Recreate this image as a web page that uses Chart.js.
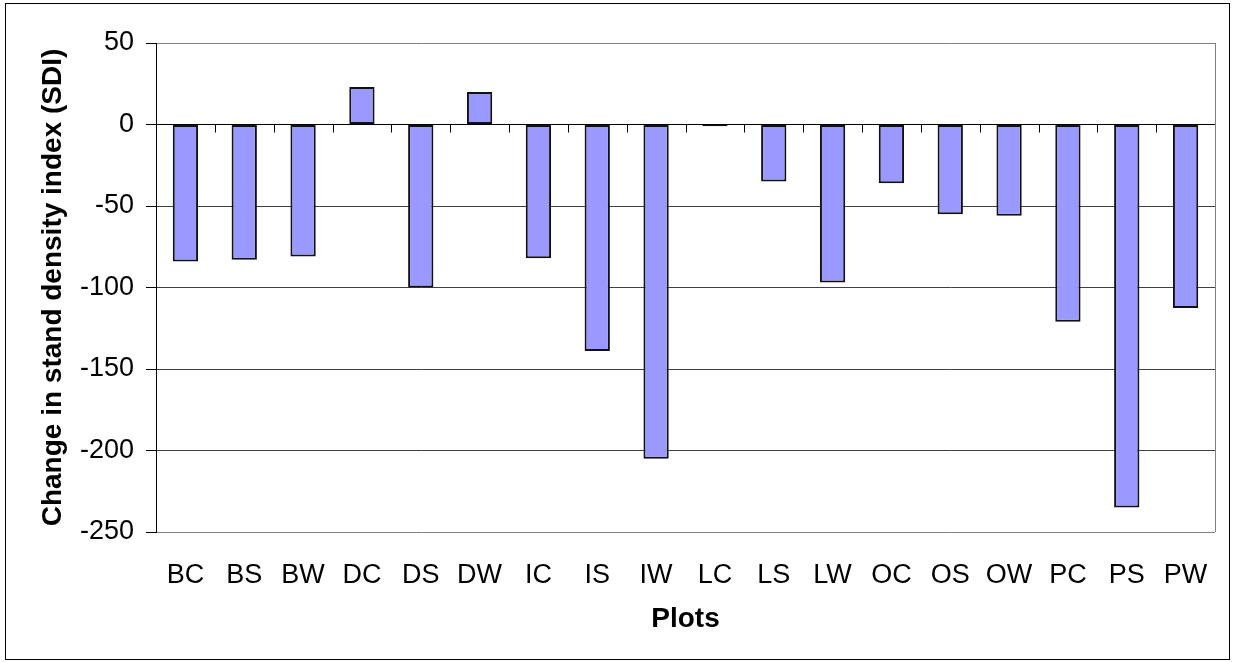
<!DOCTYPE html>
<html>
<head>
<meta charset="utf-8">
<script src="https://cdn.jsdelivr.net/npm/chart.js@4.4.0/dist/chart.umd.min.js"></script>
<style>
    html, body { margin: 0; padding: 0; background: #fff; }
    #wrap { width: 1233px; height: 662px; }
</style>
</head>
<body>
<div id="wrap"><canvas id="sdiChart"></canvas></div>
<script>
// Data
const plots = ['BC', 'BS', 'BW', 'DC', 'DS', 'DW', 'IC', 'IS', 'IW', 'LC', 'LS', 'LW', 'OC', 'OS', 'OW', 'PC', 'PS', 'PW'];
const sdiChange = [-84, -83, -81, 23, -100, 20, -82, -139, -205, -1, -35, -97, -36, -55, -56, -121, -235, -112.5];
const yMin = -250;
const yMax = 50;
const yStep = 50;

const fontFamily = "'Liberation Sans', Arial, sans-serif";

// white background + outer frame
const framePlugin = {
    id: 'frame',
    beforeDraw(chart) {
        const ctx = chart.ctx;
        ctx.save();
        ctx.fillStyle = '#fff';
        ctx.fillRect(0, 0, chart.width, chart.height);
        ctx.restore();
    },
    afterDraw(chart) {
        const ctx = chart.ctx;
        const area = chart.chartArea;
        ctx.save();
        // plot area right border
        ctx.strokeStyle = '#808080';
        ctx.lineWidth = 1;
        ctx.beginPath();
        ctx.moveTo(Math.round(area.right) + 0.5, area.top);
        ctx.lineTo(Math.round(area.right) + 0.5, area.bottom);
        ctx.stroke();
        // chart border
        ctx.strokeStyle = '#000';
        ctx.strokeRect(5.5, 3.5, 1224, 656);
        ctx.restore();
    }
};

// x axis line at zero, with tick marks between categories
const zeroAxisPlugin = {
    id: 'zeroAxis',
    afterDatasetsDraw(chart) {
        const ctx = chart.ctx;
        const x = chart.scales.x;
        const y = chart.scales.y;
        const area = chart.chartArea;
        const y0 = Math.round(y.getPixelForValue(0)) + 0.5;
        ctx.save();
        ctx.strokeStyle = '#000';
        ctx.lineWidth = 1;
        ctx.beginPath();
        ctx.moveTo(area.left, y0);
        ctx.lineTo(area.right, y0);
        for (let i = 1; i <= plots.length; i++) {
            let bx;
            if (i === plots.length) {
                bx = area.right;
            } else {
                bx = (x.getPixelForValue(i - 1) + x.getPixelForValue(i)) / 2;
            }
            bx = Math.round(bx) + 0.5;
            ctx.moveTo(bx, y0);
            ctx.lineTo(bx, y0 + 8);
        }
        ctx.stroke();
        ctx.restore();
    }
};

new Chart(document.getElementById('sdiChart'), {
    type: 'bar',
    data: {
        labels: plots,
        datasets: [{
            label: 'Change in SDI',
            data: sdiChange,
            backgroundColor: '#9999FF',
            borderColor: '#111',
            borderWidth: 2,
            borderSkipped: false,
            categoryPercentage: 1,
            barPercentage: 0.43
        }]
    },
    options: {
        responsive: true,
        maintainAspectRatio: false,
        animation: false,
        layout: {
            padding: { left: 0, top: 43, right: 18, bottom: 0 }
        },
        plugins: {
            legend: { display: false },
            tooltip: { enabled: false }
        },
        scales: {
            x: {
                grid: { display: false },
                border: { display: false },
                ticks: {
                    color: '#000',
                    font: { family: fontFamily, size: 27 },
                    padding: 19,
                    maxRotation: 0,
                    autoSkip: false
                },
                title: {
                    display: true,
                    text: 'Plots',
                    color: '#000',
                    font: { family: fontFamily, size: 28, weight: 'bold' },
                    padding: { top: 0, bottom: 26 }
                },
                afterFit: function(scale) {
                    scale.height = 130;
                }
            },
            y: {
                min: yMin,
                max: yMax,
                ticks: {
                    stepSize: yStep,
                    color: '#000',
                    font: { family: fontFamily, size: 27 },
                    padding: 12
                },
                grid: {
                    color: function(context) {
                        const v = context.tick.value;
                        return (v === yMax || v === yMin) ? '#808080' : '#404040';
                    },
                    tickColor: '#000',
                    tickLength: 10
                },
                border: { display: true, color: '#000', width: 1 },
                title: {
                    display: true,
                    text: 'Change in stand density index (SDI)',
                    color: '#000',
                    font: { family: fontFamily, size: 28, weight: 'bold' },
                    padding: { top: 36, bottom: 0 }
                },
                afterFit: function(scale) {
                    scale.width = 156;
                }
            }
        }
    },
    plugins: [framePlugin, zeroAxisPlugin]
});
</script>
</body>
</html>
